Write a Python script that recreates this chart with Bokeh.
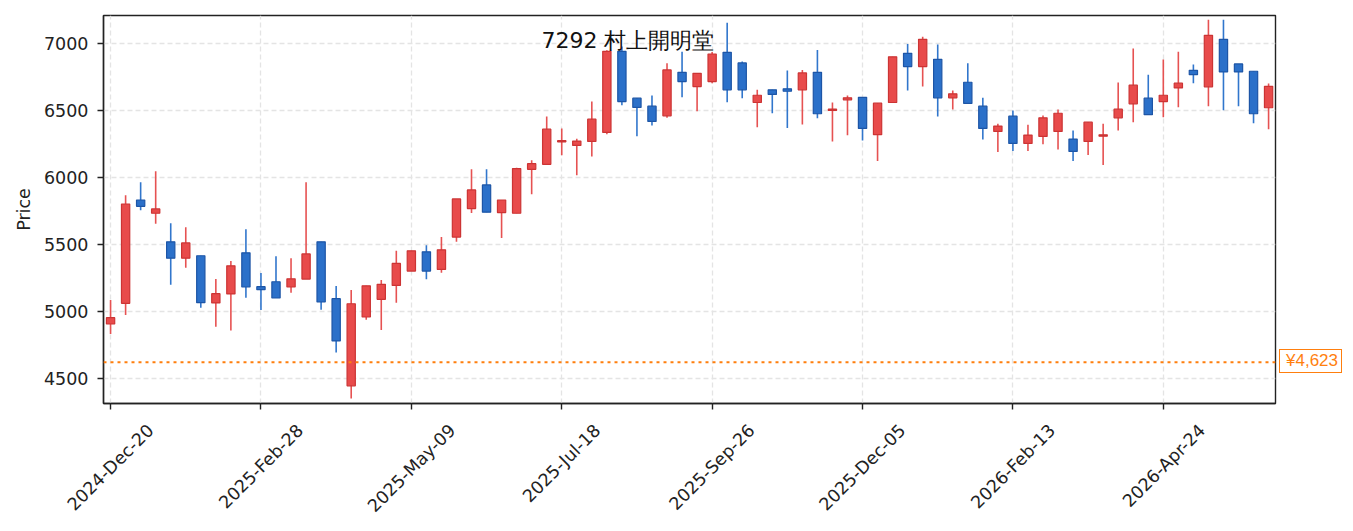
import math
from bokeh.plotting import figure
from bokeh.models import (Range1d, FixedTicker, Span, Label, LinearAxis,
                          CustomJSTickFormatter, Legend, LegendItem)
from bokeh.embed import file_html
from bokeh.resources import INLINE

title_text = "7292  村上開明堂"

opens = [4909, 5063, 5834, 5735, 5522, 5400, 5418, 5066, 5133, 5440,
         5187, 5224, 5185, 5244, 5522, 5098, 4448, 4961, 5093, 5197,
         5304, 5447, 5316, 5557, 5770, 5946, 5740, 5735, 6063, 6100,
         6268, 6241, 6271, 6338, 6943, 6593, 6534, 6462, 6786, 6680,
         6717, 6935, 6856, 6561, 6656, 6663, 6656, 6786, 6502, 6581,
         6600, 6321, 6561, 6928, 6829, 6883, 6596, 6712, 6534, 6345,
         6459, 6256, 6308, 6345, 6288, 6271, 6310, 6447, 6551, 6593,
         6568, 6670, 6801, 6678, 7032, 6849, 6794, 6522]
highs = [5088, 5869, 5966, 6048, 5661, 5631, 5418, 5244, 5378, 5616,
         5289, 5415, 5400, 5966, 5522, 5192, 5162, 5194, 5237, 5455,
         5455, 5497, 5557, 5842, 6063, 6063, 5834, 6075, 6130, 6457,
         6368, 6291, 6568, 6950, 6978, 6593, 6613, 6853, 6940, 6779,
         6938, 7156, 6866, 6656, 6656, 6799, 6804, 6953, 6561, 6613,
         6600, 6556, 6902, 6998, 7052, 6993, 6650, 6853, 6596, 6403,
         6501, 6395, 6464, 6509, 6353, 6414, 6403, 6710, 6963, 6769,
         6881, 6940, 6844, 7179, 7179, 6849, 6794, 6702]
lows = [4835, 4976, 5758, 5656, 5202, 5328, 5031, 4889, 4860, 5105,
        5013, 5103, 5142, 5244, 5016, 4696, 4354, 4941, 4865, 5068,
        5304, 5242, 5291, 5522, 5737, 5743, 5551, 5735, 5877, 6100,
        6167, 6018, 6159, 6325, 6541, 6310, 6390, 6447, 6600, 6496,
        6705, 6563, 6593, 6377, 6481, 6370, 6397, 6444, 6271, 6316,
        6278, 6124, 6561, 6650, 6680, 6457, 6509, 6554, 6286, 6191,
        6199, 6199, 6249, 6211, 6124, 6169, 6095, 6353, 6414, 6470,
        6452, 6526, 6705, 6534, 6504, 6534, 6407, 6362]
closes = [4956, 5804, 5787, 5767, 5400, 5514, 5068, 5135, 5343, 5185,
          5165, 5103, 5246, 5432, 5073, 4783, 5060, 5194, 5205, 5361,
          5455, 5304, 5462, 5842, 5909, 5743, 5834, 6068, 6105, 6362,
          6276, 6273, 6437, 6943, 6568, 6524, 6420, 6804, 6717, 6779,
          6923, 6656, 6656, 6615, 6621, 6645, 6782, 6477, 6511, 6596,
          6368, 6556, 6902, 6829, 7032, 6596, 6626, 6554, 6368, 6385,
          6256, 6318, 6447, 6481, 6196, 6414, 6320, 6511, 6690, 6470,
          6615, 6705, 6769, 7062, 6789, 6789, 6477, 6682]

tick_idx = [0, 10, 20, 30, 40, 50, 60, 70]
tick_labels = ["2024-Dec-20", "2025-Feb-28", "2025-May-09", "2025-Jul-18",
               "2025-Sep-26", "2025-Dec-05", "2026-Feb-13", "2026-Apr-24"]
y_ticks = [4500, 5000, 5500, 6000, 6500, 7000]
ref_price = 4623
ref_label = "¥4,623"

# layout / style constants
UP_FILL, UP_LINE, UP_WICK = "#e84b4b", "#cc3434", "#e65252"
DN_FILL, DN_LINE, DN_WICK = "#2b70c9", "#1d55a6", "#3176cc"
ORANGE = "#ff7f0e"
FONT = "DejaVu Sans"
INK = "#222222"
FRAME_W, FRAME_H = 1172, 388
X0, X1 = -0.47, 77.46
PX_PER_UNIT = FRAME_W / (X1 - X0)
# approximate rendered widths (px) of the rotated date labels, used to centre them on ticks
label_w_px = [113, 111, 116, 101, 112, 113, 111, 110]

idx = list(range(len(opens)))
up = [c >= o for o, c in zip(opens, closes)]


def subset(flag):
    ii = [i for i in idx if up[i] == flag]
    return dict(
        x=ii,
        top=[max(opens[i], closes[i]) for i in ii],
        bottom=[min(opens[i], closes[i]) for i in ii],
        high=[highs[i] for i in ii],
        low=[lows[i] for i in ii],
    )


p = figure(frame_width=FRAME_W, frame_height=FRAME_H, output_backend="svg",
           toolbar_location=None, x_range=Range1d(X0, X1),
           y_range=Range1d(4316, 7210),
           min_border_left=103, min_border_right=78, min_border_top=15,
           min_border_bottom=128)
p.background_fill_color = "white"
p.border_fill_color = "white"
p.outline_line_color = INK
p.outline_line_width = 1.4
p.outline_line_alpha = 1.0

wick_renderers = []
for flag, wick, fill, line in ((True, UP_WICK, UP_FILL, UP_LINE),
                               (False, DN_WICK, DN_FILL, DN_LINE)):
    d = subset(flag)
    wr = p.segment(x0=d["x"], y0=d["high"], x1=d["x"], y1=d["low"],
                   line_color=wick, line_width=1.6)
    wick_renderers.append(wr)
    p.vbar(x=d["x"], top=d["top"], bottom=d["bottom"], width=0.55,
           fill_color=fill, line_color=line, line_width=1.2)

p.add_layout(Span(location=ref_price, dimension="width", line_color=ORANGE,
                  line_dash="3 4", line_width=2))

# price tag outside the frame (right panel)
tag = Legend(items=[LegendItem(label=ref_label, renderers=[wick_renderers[0]])],
             location=(4, 30), orientation="vertical", padding=1, margin=0,
             spacing=0, glyph_width=0, glyph_height=1, label_standoff=5,
             label_width=54, label_height=1,
             label_text_font="Liberation Sans", label_text_font_size="17px",
             label_text_color=ORANGE, border_line_color=ORANGE,
             border_line_width=1.8, border_line_alpha=1.0,
             background_fill_color="white", background_fill_alpha=1.0)
p.add_layout(tag, "right")

p.add_layout(Label(x=438, y=363, x_units="screen", y_units="screen",
                   text=title_text, text_font=FONT,
                   text_font_size="22px", text_color="#111111",
                   text_align="left", text_baseline="middle"))

# x axis: tick marks only
xa = p.xaxis[0]
xa.ticker = FixedTicker(ticks=tick_idx)
xa.major_label_overrides = {t: "" for t in tick_idx}
xa.major_label_text_font_size = "1px"
xa.major_label_standoff = 0
xa.minor_tick_line_color = None

# second x axis carrying the rotated date labels, centred on the ticks
shifts = [w / 2 * math.cos(math.pi / 4) / PX_PER_UNIT for w in label_w_px]
xb = LinearAxis(ticker=FixedTicker(ticks=[t + s for t, s in zip(tick_idx, shifts)]),
                formatter=CustomJSTickFormatter(args=dict(labels=tick_labels),
                                                code="return labels[index];"),
                major_label_orientation=math.pi / 4,
                axis_line_color=None, major_tick_line_color=None,
                minor_tick_line_color=None, major_tick_in=0, major_tick_out=0,
                major_label_standoff=18, major_label_text_font=FONT,
                major_label_text_font_size="17.5px",
                major_label_text_color=INK)
p.add_layout(xb, "below")

p.yaxis.ticker = FixedTicker(ticks=y_ticks)
p.yaxis.minor_tick_line_color = None
for ax in (xa, p.yaxis[0]):
    ax.axis_line_color = INK
    ax.axis_line_width = 1.4
    ax.major_tick_line_color = INK
    ax.major_tick_line_width = 1.4
    ax.major_tick_out = 6
    ax.major_tick_in = 0
p.yaxis.major_label_text_font = FONT
p.yaxis.major_label_text_font_size = "17.5px"
p.yaxis.major_label_text_color = INK
p.yaxis.major_label_standoff = 9
p.yaxis.axis_label = "Price"
p.yaxis.axis_label_text_font = FONT
p.yaxis.axis_label_text_font_size = "17.5px"
p.yaxis.axis_label_text_font_style = "normal"
p.yaxis.axis_label_text_color = INK
p.yaxis.axis_label_standoff = 7

p.xgrid.ticker = FixedTicker(ticks=tick_idx)
for g in (p.xgrid, p.ygrid):
    g.grid_line_color = "#e4e4e4"
    g.grid_line_dash = "5 3"
    g.grid_line_width = 1.3

open("out.html", "w").write(file_html(p, INLINE))
